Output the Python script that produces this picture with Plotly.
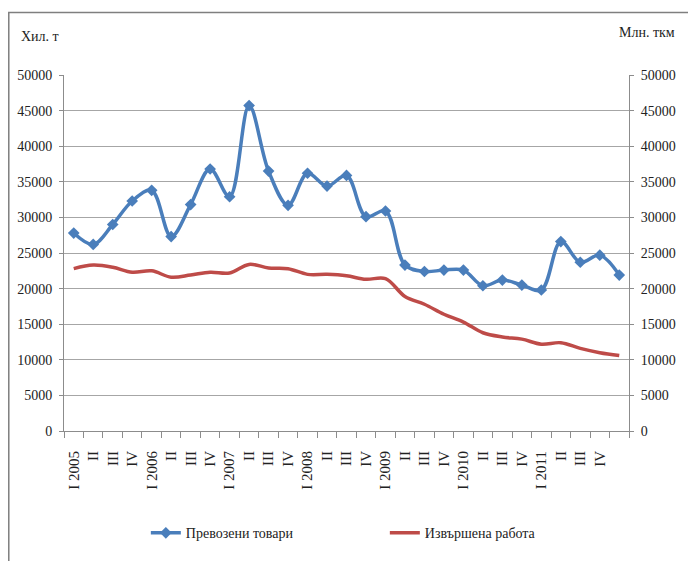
import plotly.graph_objects as go

W, H = 688, 561
L, R, T, B = 64, 51, 75, 127

quarters = ["I 2005", "II", "III", "IV",
            "I 2006", "II", "III", "IV",
            "I 2007", "II", "III", "IV",
            "I 2008", "II", "III", "IV",
            "I 2009", "II", "III", "IV",
            "I 2010", "II", "III", "IV",
            "I 2011", "II", "III", "IV", ""]

goods = [27800, 26200, 29000, 32300, 33800, 27300, 31800, 36800, 32900, 45700,
         36500, 31700, 36200, 34400, 35900, 30100, 30900, 23300, 22400, 22600,
         22600, 20400, 21200, 20500, 19800, 26600, 23700, 24700, 21900]

work = [22800, 23300, 23000, 22300, 22500, 21600, 21900, 22300, 22200, 23400,
        22900, 22800, 22000, 22000, 21800, 21300, 21400, 18900, 17800, 16400,
        15300, 13800, 13200, 12900, 12200, 12400, 11600, 11000, 10600]

y_ticks = [0, 5000, 10000, 15000, 20000, 25000, 30000, 35000, 40000, 45000, 50000]
y_ticktext = [str(v) for v in y_ticks]

name_goods = "Превозени товари"
name_work = "Извършена работа"
left_title = "Хил. т"
right_title = "Млн. ткм"

BLUE = "#4a7ebb"
RED = "#be4b48"
GRID = "#a6a6a6"
AX = "#8c8c8c"
FONT = "Liberation Serif"
TXT = "#222222"

xs = list(range(len(quarters)))

fig = go.Figure()
fig.add_trace(go.Scatter(
    x=xs, y=goods, name=name_goods, mode="lines+markers",
    line=dict(color=BLUE, width=3.5, shape="spline", smoothing=1.0),
    marker=dict(symbol="diamond", size=9, color=BLUE),
    yaxis="y"))
fig.add_trace(go.Scatter(
    x=xs, y=work, name=name_work, mode="lines",
    line=dict(color=RED, width=3.5, shape="spline", smoothing=1.0),
    yaxis="y2"))

pw = W - L - R
ph = H - T - B

def px_x(p):
    return (p - L) / pw

def px_y(p):
    return (H - B - p) / ph

fig.update_layout(
    width=W, height=H,
    margin=dict(l=L, r=R, t=T, b=B, pad=0),
    paper_bgcolor="white", plot_bgcolor="white",
    font=dict(family=FONT, size=14, color=TXT),
    showlegend=True,
    legend=dict(orientation="h", x=px_x(147), y=px_y(521), xanchor="left", yanchor="top",
                font=dict(family=FONT, size=14, color=TXT),
                entrywidth=194, entrywidthmode="pixels", itemwidth=30,
                bgcolor="rgba(0,0,0,0)"),
    xaxis=dict(range=[-0.5, len(quarters) - 0.5], tickmode="array", tickvals=xs,
               ticktext=quarters, tickangle=-90, ticks="", showgrid=False,
               zeroline=False, showline=True, linecolor=AX, linewidth=1,
               tickfont=dict(family=FONT, size=15, color=TXT),
               ticklabelstandoff=13,
               minor=dict(tickmode="array",
                          tickvals=[i - 0.5 for i in range(len(quarters) + 1)],
                          ticks="outside", ticklen=6, tickcolor=AX, showgrid=False)),
    yaxis=dict(range=[0, 50000], tickmode="array", tickvals=y_ticks, ticktext=y_ticktext,
               showgrid=True, gridcolor=GRID, gridwidth=1.3, zeroline=False,
               showline=True, linecolor=AX, linewidth=1,
               ticks="outside", ticklen=4, tickcolor=AX,
               tickfont=dict(family=FONT, size=14, color=TXT),
               ticklabelstandoff=4),
    yaxis2=dict(range=[0, 50000], tickmode="array", tickvals=y_ticks, ticktext=y_ticktext,
                overlaying="y", side="right", showgrid=False, zeroline=False,
                showline=True, linecolor=AX, linewidth=1,
                ticks="outside", ticklen=4, tickcolor=AX,
                tickfont=dict(family=FONT, size=14, color=TXT),
                ticklabelstandoff=4),
    shapes=[dict(type="rect", xref="paper", yref="paper",
                 x0=px_x(8), x1=px_x(700), y0=px_y(575), y1=px_y(12),
                 line=dict(color="#7f7f7f", width=1.5), fillcolor="rgba(0,0,0,0)",
                 layer="above")],
    annotations=[
        dict(text=left_title, xref="paper", yref="paper", x=px_x(40), y=px_y(36),
             xanchor="center", yanchor="middle", showarrow=False,
             font=dict(family=FONT, size=14, color=TXT)),
        dict(text=right_title, xref="paper", yref="paper", x=px_x(686), y=px_y(32),
             xanchor="right", yanchor="middle", showarrow=False,
             font=dict(family=FONT, size=14, color=TXT)),
    ],
)

fig.write_html("out.html", config={"displayModeBar": False},
               post_script="document.body.style.margin='0';")
